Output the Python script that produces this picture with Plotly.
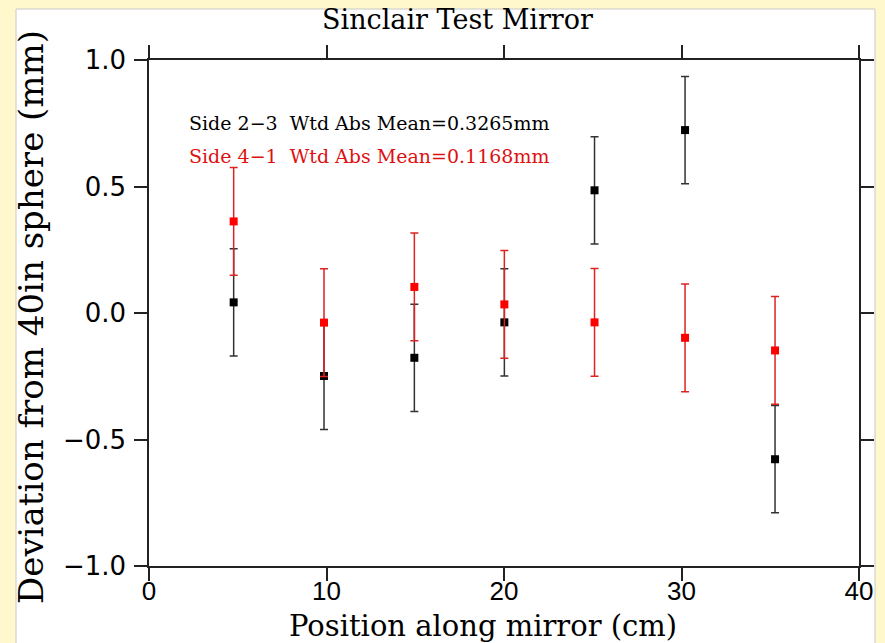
import plotly.graph_objects as go

# Data
position_cm = [4.77, 9.86, 14.95, 20.02, 25.10, 30.20, 35.27]
side_23 = [0.042, -0.249, -0.177, -0.037, 0.485, 0.723, -0.578]
side_41 = [0.362, -0.038, 0.103, 0.034, -0.037, -0.098, -0.148]
err_23 = [0.212, 0.211, 0.212, 0.212, 0.212, 0.212, 0.212]
err_41 = [0.213, 0.213, 0.213, 0.213, 0.213, 0.213, 0.213]
x_ticks = [0, 10, 20, 30, 40]
y_ticks = [-1.0, -0.5, 0.0, 0.5, 1.0]
label_23 = "Side 2\u22123  Wtd Abs Mean=0.3265mm"
label_41 = "Side 4\u22121  Wtd Abs Mean=0.1168mm"

SERIF = "DejaVu Serif"

fig = go.Figure()
fig.add_trace(go.Scatter(
    x=position_cm, y=side_23, mode="markers", name="Side 2-3",
    marker=dict(symbol="square", size=8, color="black"),
    error_y=dict(type="data", array=err_23, color="#333333", thickness=1.5, width=4),
))
fig.add_trace(go.Scatter(
    x=position_cm, y=side_41, mode="markers", name="Side 4-1",
    marker=dict(symbol="square", size=8, color="#ff0000"),
    error_y=dict(type="data", array=err_41, color="#dd2222", thickness=1.5, width=4),
))

axis_common = dict(
    showgrid=False, zeroline=False, showline=True, linecolor="#222222", linewidth=1.5,
    ticks="outside", ticklen=13, tickwidth=1.5, tickcolor="#222222", mirror="ticks",
)
fig.update_xaxes(range=[0, 40], tickvals=x_ticks, ticktext=[str(v) for v in x_ticks],
                 tickfont=dict(family="Liberation Sans", size=26, color="black"),
                 ticklabelstandoff=-12,
                 **axis_common)
fig.update_yaxes(range=[-1, 1], tickvals=y_ticks, ticktext=["\u22121.0", "\u22120.5", "0.0", "0.5", "1.0"],
                 tickfont=dict(family="DejaVu Sans", size=26, color="black"),
                 ticklabelstandoff=3,
                 **axis_common)

annotations = [
    dict(text="Sinclair Test Mirror", xref="paper", yref="paper", x=(457 - 149) / 710,
         y=(566 - 19) / 506, showarrow=False, xanchor="center", yanchor="middle",
         font=dict(family=SERIF, size=27, color="black")),
    dict(text="Position along mirror (cm)", xref="paper", yref="paper", x=(483 - 149) / 710,
         y=(566 - 626) / 506, showarrow=False, xanchor="center", yanchor="middle",
         font=dict(family=SERIF, size=29, color="black")),
    dict(text="Deviation from 40in sphere (mm)", xref="paper", yref="paper", x=(31 - 149) / 710,
         y=(566 - 317) / 506, showarrow=False, xanchor="center", yanchor="middle", textangle=-90,
         font=dict(family=SERIF, size=34, color="black")),
    dict(text=label_23, xref="paper", yref="paper", x=(369 - 149) / 710,
         y=(566 - 123) / 506, showarrow=False, xanchor="center", yanchor="middle",
         font=dict(family=SERIF, size=19, color="black")),
    dict(text=label_41, xref="paper", yref="paper", x=(369 - 149) / 710,
         y=(566 - 156) / 506, showarrow=False, xanchor="center", yanchor="middle",
         font=dict(family=SERIF, size=19, color="#dd1111")),
]

fig.update_layout(
    width=885, height=643,
    margin=dict(l=149, r=26, t=60, b=77),
    paper_bgcolor="#fff8cc", plot_bgcolor="white",
    showlegend=False,
    annotations=annotations,
    shapes=[dict(type="rect", xref="paper", yref="paper", layer="below",
                 x0=(16 - 149) / 710, x1=(875 - 149) / 710,
                 y0=(566 - 700) / 506, y1=(566 - 9) / 506,
                 fillcolor="white", line=dict(color="#c8c8c8", width=1))],
)

fig.write_html("out.html")
